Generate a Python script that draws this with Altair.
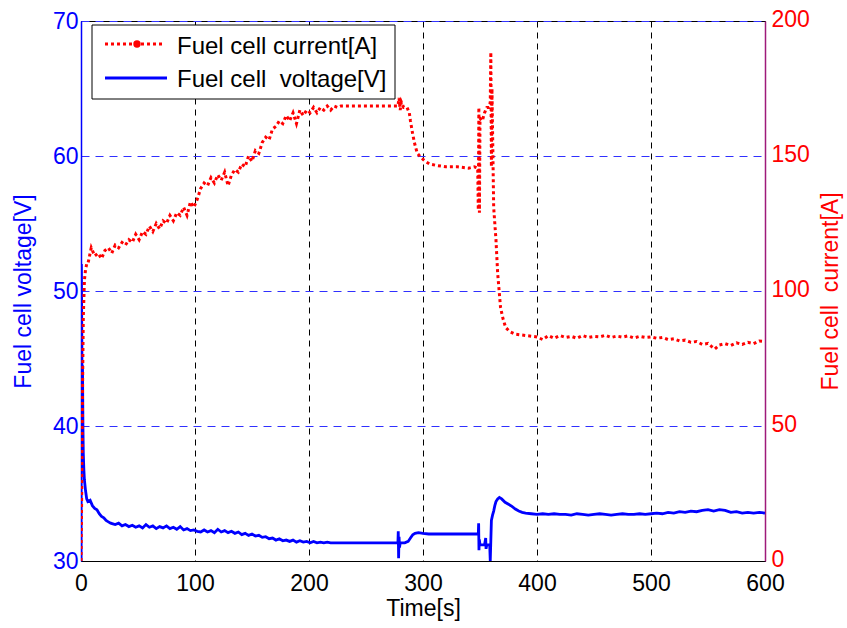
import altair as alt
import pandas as pd

# ---------------- data ----------------
time_current = [0, 0.5, 1, 1.5, 2, 3, 4, 5,
                6, 9, 12, 15, 18, 21, 24, 27, 30, 33, 36, 39, 42, 45, 48, 51, 54, 57,
                60, 63, 66, 69, 72, 75, 78, 81, 84, 87, 90, 93, 96, 99, 102, 105, 108,
                111, 114, 117, 120, 123, 126, 129, 132, 135, 138, 141, 144, 147, 150,
                153, 156, 159, 162, 165, 168, 171, 174, 177, 180, 183, 186, 189, 192,
                195, 198, 201, 204, 207, 210, 213, 216, 219, 222, 225, 228,
                235, 250, 265, 278, 279, 280, 281, 283, 286, 288, 289, 291, 293, 295,
                298, 302, 306, 312, 320, 330, 340, 345, 348,
                348.5, 349, 349.5, 350, 352, 354, 356, 358, 359, 359.5, 360, 360.5,
                361, 362, 364, 365.5, 368, 370, 372.5, 376, 381, 390,
                400, 405, 410, 415, 420, 425, 430, 435, 440, 445, 450, 455, 460, 465,
                470, 475, 480, 485, 490, 495, 500, 505, 510, 515, 520, 525, 530, 535,
                540, 545, 550, 553, 556, 560, 565, 570, 575, 580, 585, 590, 595, 600]
current_A = [0, 20, 45, 70, 90, 104, 108, 110,
             110, 116, 113, 114, 112, 115, 116, 114, 117, 116, 118, 117, 119, 118, 121,
             119, 122, 121, 124, 122, 125, 123, 126, 125, 128, 126, 129, 128, 131, 128,
             133, 131, 134, 138, 140, 139, 142, 140, 143, 141, 144, 139, 143, 145, 144,
             147, 146, 150, 148, 152, 151, 155, 157, 156, 160, 161, 163, 162, 165, 163,
             166, 162, 167, 165, 167, 166, 168, 166, 168, 167, 168.5, 167, 168.5, 168,
             168.5,
             168.5, 168.5, 168.5, 168.5, 171.5, 167, 170, 168, 168, 166, 163, 158, 154, 151,
             149.5, 148, 147, 146.5, 146, 146, 145.5, 146, 145.5,
             130, 168, 129, 164, 163, 166, 168, 168, 170, 188.5, 146, 175,
             160, 131, 119, 106.5, 94, 90, 86.5, 85, 84, 83.5,
             83.0, 82.0, 83.5, 82.5, 83.5, 82.8, 83.2, 82.5, 83.5, 82.8, 83.2, 83.0,
             83.6, 82.8, 83.3, 82.9, 83.4, 82.6, 83.2, 82.8, 83.0, 82.5, 82.8, 82.0,
             82.3, 81.5, 81.8, 81.0, 81.3, 80.2, 80.6, 79.5, 78.5, 80.0, 80.5, 79.8,
             80.8, 80.2, 81.0, 80.5, 81.5, 81.3]

time_voltage = [0, 0.3, 0.7, 1.0, 1.3, 1.7, 2.0, 2.5, 3.0, 4.0, 5.0, 6.0, 8.0,
                10, 12, 14, 16, 18, 20, 22, 24, 26, 28, 30, 33, 36, 39, 42, 45, 48,
                51, 54, 57, 60, 63, 66, 69, 72, 75, 78, 81, 84, 87, 90, 93, 96, 99,
                102, 105, 108, 111, 114, 117, 120, 123, 126, 129, 132, 135, 138, 141,
                144, 147, 150, 153, 156, 159, 162, 165, 168, 171, 174, 177, 180, 183,
                186, 189, 192, 195, 198, 201, 204, 207, 210, 213, 216, 219, 230, 250,
                278, 278.3, 278.6, 279, 279.4, 280, 284, 287, 289, 291, 293, 296, 300,
                305, 320, 340, 348.5, 348.8, 349.1, 349.4, 350, 354, 355, 355.3, 356,
                358.5, 359, 359.5, 360, 361, 362, 363, 364, 365.5, 367, 369, 372, 375,
                378, 381, 384, 387, 390, 395, 400, 405, 410, 415, 420, 425, 430, 435,
                440, 445, 450, 455, 460, 465, 470, 475, 480, 485, 490, 495, 500, 505,
                510, 515, 520, 525, 530, 535, 540, 545, 550, 555, 560, 565, 570, 575,
                580, 585, 590, 595, 600]
voltage_V = [30.0, 52.0, 47.0, 42.0, 44.5, 40.0, 38.0, 36.8, 36.0, 35.2, 34.6, 34.4,
             34.5, 34.1, 33.9, 33.8, 33.5, 33.3, 33.2, 33.0, 32.9, 32.8, 32.75, 32.7,
             32.8, 32.6, 32.7, 32.55, 32.65, 32.5, 32.6, 32.45, 32.7, 32.5, 32.6, 32.4,
             32.55, 32.45, 32.6, 32.4, 32.5, 32.35, 32.55, 32.3, 32.4, 32.25, 32.3,
             32.2, 32.15, 32.3, 32.15, 32.25, 32.1, 32.35, 32.15, 32.25, 32.1, 32.2,
             32.05, 32.15, 31.95, 32.05, 31.9, 32.0, 31.85, 31.9, 31.75, 31.8, 31.65,
             31.7, 31.55, 31.65, 31.5, 31.55, 31.45, 31.55, 31.4, 31.5, 31.4, 31.45,
             31.35, 31.45, 31.35, 31.4, 31.35, 31.4, 31.35, 31.35, 31.35,
             31.35, 32.2, 30.2, 31.8, 31.0, 31.35, 31.35, 31.45, 31.7, 31.95, 32.05,
             32.1, 32.05, 32.0, 32.0, 32.0, 32.0, 32.8, 30.8, 31.6, 31.2, 31.2, 31.7,
             30.9, 31.2, 31.2, 30.0, 31.5, 33.0, 33.4, 33.7, 34.1, 34.4, 34.6, 34.7,
             34.6, 34.35, 34.2, 34.05, 33.85, 33.7, 33.6, 33.55, 33.5, 33.45, 33.5,
             33.45, 33.5, 33.45, 33.45, 33.4, 33.5, 33.45, 33.4, 33.45, 33.5, 33.45,
             33.4, 33.45, 33.5, 33.45, 33.45, 33.5, 33.45, 33.5, 33.55, 33.5, 33.6,
             33.55, 33.65, 33.6, 33.7, 33.65, 33.75, 33.8, 33.7, 33.8, 33.75, 33.6,
             33.65, 33.55, 33.6, 33.55, 33.6, 33.55]

x_ticks = [0, 100, 200, 300, 400, 500, 600]
v_ticks = [30, 40, 50, 60, 70]
i_ticks = [0, 50, 100, 150, 200]

label_current = "Fuel cell current[A]"
label_voltage = "Fuel cell\u00a0 voltage[V]"
title_current = "Fuel cell\u00a0 current[A]"

cur_df = pd.DataFrame({"t": time_current, "i": current_A})
vol_df = pd.DataFrame({"t": time_voltage, "v": voltage_V})
one = pd.DataFrame({"a": [0]})

FONT = "Liberation Sans"
FS = 23
BLUE = "#0000ff"
RED = "#ff0000"

x_enc = alt.X(
    "t:Q",
    scale=alt.Scale(domain=[0, 600], nice=False, zero=False),
    axis=alt.Axis(values=x_ticks, title="Time[s]", grid=True, gridColor="black",
                  gridDash=[6, 5], gridWidth=1, gridOpacity=1, ticks=False,
                  labelPadding=11, titlePadding=2, domainColor="black",
                  labelColor="black", titleColor="black", labelFlush=False),
)

volt = alt.Chart(vol_df).mark_line(color=BLUE, strokeWidth=2.8, clip=True).encode(
    x=x_enc,
    y=alt.Y("v:Q", scale=alt.Scale(domain=[30, 70], nice=False, zero=False),
            axis=alt.Axis(orient="left", values=v_ticks, title="Fuel cell voltage[V]",
                          grid=True, gridColor="#3030ff", gridOpacity=1,
                          gridDash=[8, 6], gridWidth=1,
                          ticks=False, domainColor=BLUE, domainWidth=1.5,
                          labelColor=BLUE, titleColor=BLUE, labelPadding=3,
                          titlePadding=17, labelFlush=False)),
)

cur = alt.Chart(cur_df).mark_line(color=RED, strokeWidth=3, strokeDash=[3, 3],
                                  clip=True).encode(
    x=x_enc,
    y=alt.Y("i:Q", scale=alt.Scale(domain=[0, 200], nice=False, zero=False),
            axis=alt.Axis(orient="right", values=i_ticks, title=title_current,
                          grid=False, ticks=False, domainColor="#9e1a7a",
                          domainWidth=1.5, labelColor=RED, titleColor=RED,
                          labelPadding=6, titlePadding=10, titleAngle=270,
                          titleBaseline="top", labelOffset=-2, labelFlush=False)),
)

leg_box = alt.Chart(one).mark_rect(fill="white", stroke="black", strokeWidth=1).encode(
    x=alt.value(11), x2=alt.value(314), y=alt.value(4), y2=alt.value(78))
leg_red = alt.Chart(one).mark_rule(color=RED, strokeWidth=3, strokeDash=[3, 3]).encode(
    x=alt.value(24), x2=alt.value(82), y=alt.value(23))
leg_dot = alt.Chart(one).mark_point(filled=True, shape="circle", size=55, color=RED,
                                    opacity=1).encode(x=alt.value(56), y=alt.value(23))
leg_blue = alt.Chart(one).mark_rule(color=BLUE, strokeWidth=3).encode(
    x=alt.value(24), x2=alt.value(86), y=alt.value(57))
leg_t1 = alt.Chart(one).mark_text(align="left", baseline="alphabetic", font=FONT,
                                  fontSize=24, color="black").encode(
    x=alt.value(96), y=alt.value(33), text=alt.value(label_current))
leg_t2 = alt.Chart(one).mark_text(align="left", baseline="alphabetic", font=FONT,
                                  fontSize=24, color="black").encode(
    x=alt.value(96), y=alt.value(66), text=alt.value(label_voltage))

chart = alt.layer(volt, cur, leg_box, leg_red, leg_dot, leg_blue, leg_t1, leg_t2
).resolve_scale(y="independent").properties(
    width=684, height=540,
    autosize=alt.AutoSizeParams(type="none"),
    padding={"left": 81, "top": 21, "right": 82, "bottom": 67},
    background="white",
).configure_view(stroke="black", strokeWidth=1).configure_axis(
    labelFont=FONT, titleFont=FONT, labelFontSize=FS, titleFontSize=FS,
    titleFontWeight="normal", labelFontWeight="normal",
)

chart.save("out.html", embed_options={"renderer": "svg", "actions": False})
